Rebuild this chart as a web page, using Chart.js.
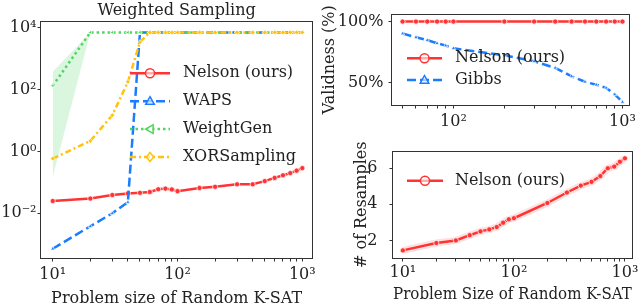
<!DOCTYPE html>
<html>
<head>
<meta charset="utf-8">
<script src="https://cdn.jsdelivr.net/npm/chart.js@4.4.1/dist/chart.umd.min.js"></script>
<style>
  body { margin: 0; background: #fff; width: 640px; height: 307px; overflow: hidden; position: relative; }
  canvas { position: absolute; }
</style>
</head>
<body>
<canvas id="tiempo" width="320" height="307" style="left:0;top:0"></canvas>
<canvas id="validez" width="320" height="130" style="left:320px;top:0"></canvas>
<canvas id="remuestreo" width="320" height="177" style="left:320px;top:130px"></canvas>
<script>
// ---- datos ----
// panel izquierdo: tiempo de muestreo ponderado (escala log)
const sizesTime = [10, 20, 30, 40, 50, 60, 70, 80, 90, 100, 150, 200, 300, 400, 500, 600, 700, 800, 900, 1000];
const nelsonTime = [0.025, 0.030, 0.039, 0.044, 0.046, 0.049, 0.060, 0.063, 0.059, 0.052, 0.066, 0.072, 0.087, 0.087, 0.11, 0.14, 0.17, 0.20, 0.24, 0.29];
const wapsTime = [0.00071, 0.0038, 0.010, 0.023, 7200, 7200, 7200, 7200, 7200, 7200, 7200, 7200, 7200, 7200, 7200, 7200, 7200, 7200, 7200, 7200];
const weightgenTime = [135, 7200, 7200, 7200, 7200, 7200, 7200, 7200, 7200, 7200, 7200, 7200, 7200, 7200, 7200, 7200, 7200, 7200, 7200, 7200];
const xorTime = [0.59, 2.2, 15, 180, 3500, 7200, 7200, 7200, 7200, 7200, 7200, 7200, 7200, 7200, 7200, 7200, 7200, 7200, 7200, 7200];
const bandSizes = [10, 20];
const weightgenLow = [0.15, 7200];
const weightgenHigh = [380, 7200];
const timeTicksX = [10, 20, 30, 40, 50, 60, 70, 80, 90, 100, 200, 300, 400, 500, 600, 700, 800, 900, 1000];
const timeTicksY = [0.01, 1, 100, 10000];

// panel superior derecho: validez (%)
const sizesValid = [50, 60, 70, 80, 90, 100, 200, 300, 400, 500, 600, 700, 800, 900, 1000];
const nelsonValid = [100, 100, 100, 100, 100, 100, 100, 100, 100, 100, 100, 100, 100, 100, 100];
const gibbsValid = [90.1, 87.1, 84.7, 82.2, 80.2, 78.0, 72.3, 67.3, 61.9, 55.0, 50.5, 48.0, 45.5, 40.1, 33.9];
const validTicksX = [50, 60, 70, 80, 90, 100, 200, 300, 400, 500, 600, 700, 800, 900, 1000];
const validTicksY = [50, 100];

// panel inferior derecho: numero de remuestreos
const sizesResample = [10, 20, 30, 40, 50, 60, 70, 80, 90, 100, 200, 300, 400, 500, 600, 700, 800, 900, 1000];
const nelsonResample = [1.45, 1.86, 2.0, 2.29, 2.5, 2.61, 2.74, 2.98, 3.17, 3.23, 4.07, 4.65, 5.03, 5.24, 5.56, 5.99, 6.08, 6.35, 6.54];
const resampleTicksX = [10, 20, 30, 40, 50, 60, 70, 80, 90, 100, 200, 300, 400, 500, 600, 700, 800, 900, 1000];
const resampleTicksY = [2, 4, 6];

const majorX = [10, 100, 1000];

// ---- estilos ----
const ROJO = "#ff3333";
const AZUL = "#1a7cff";
const VERDE = "#4fd65f";
const AMARILLO = "#ffc20e";
const FUENTE = "'DejaVu Serif', serif";
const TEXTO = "#222";
const EJE = "#333";

Chart.defaults.font.family = FUENTE;
Chart.defaults.font.size = 16;
Chart.defaults.color = TEXTO;

const sup = { "-": "⁻", "0": "⁰", "1": "¹", "2": "²", "3": "³", "4": "⁴" };
function potencia(v) {
  const e = Math.round(Math.log10(v));
  return "10" + String(e).split("").map((c) => sup[c]).join("");
}

function puntos(xs, ys) {
  return xs.map((x, i) => ({ x: x, y: ys[i] }));
}

function marcador(ctx, estilo, x, y, r) {
  ctx.beginPath();
  if (estilo === "circle") {
    ctx.arc(x, y, r, 0, Math.PI * 2);
  } else if (estilo === "triangle") {
    ctx.moveTo(x, y - r);
    ctx.lineTo(x + r * 0.95, y + r * 0.7);
    ctx.lineTo(x - r * 0.95, y + r * 0.7);
    ctx.closePath();
  } else if (estilo === "triLeft") {
    ctx.moveTo(x - r, y);
    ctx.lineTo(x + r * 0.7, y - r * 0.95);
    ctx.lineTo(x + r * 0.7, y + r * 0.95);
    ctx.closePath();
  } else {
    ctx.moveTo(x, y - r);
    ctx.lineTo(x + r * 0.8, y);
    ctx.lineTo(x, y + r);
    ctx.lineTo(x - r * 0.8, y);
    ctx.closePath();
  }
  ctx.fill();
  ctx.stroke();
}

// marco completo alrededor del area de la grafica
const marcoPlugin = {
  id: "marco",
  afterDraw(chart) {
    const ctx = chart.ctx;
    const a = chart.chartArea;
    ctx.save();
    ctx.setLineDash([]);
    ctx.strokeStyle = EJE;
    ctx.lineWidth = 1;
    ctx.strokeRect(Math.round(a.left) - 0.5, Math.round(a.top) - 0.5, Math.round(a.right - a.left) + 1, Math.round(a.bottom - a.top) + 1);
    ctx.restore();
  },
};

// leyenda estilo matplotlib (linea + marcador)
const leyendaPlugin = {
  id: "leyenda",
  afterDraw(chart, args, opts) {
    const ctx = chart.ctx;
    ctx.save();
    opts.items.forEach((it, i) => {
      const ds = chart.data.datasets[it.index];
      const y = opts.y + i * opts.step;
      ctx.strokeStyle = ds.borderColor;
      ctx.lineWidth = 2.5;
      ctx.setLineDash(ds.borderDash || []);
      ctx.beginPath();
      ctx.moveTo(opts.x, y);
      ctx.lineTo(opts.x + opts.len, y);
      ctx.stroke();
      ctx.setLineDash([]);
      ctx.lineWidth = 1.5;
      ctx.fillStyle = "rgba(255,255,255,0.6)";
      marcador(ctx, it.marker, opts.x + opts.len / 2, y, 4.5);
      ctx.fillStyle = TEXTO;
      ctx.font = "16px " + FUENTE;
      ctx.textAlign = "left";
      ctx.textBaseline = "middle";
      ctx.fillText(ds.label, opts.x + opts.textGap, y);
    });
    ctx.restore();
  },
};

const rejilla = { display: true, drawOnChartArea: false, drawTicks: true, tickLength: 3.5, color: EJE };

function ejeX(min, max, ticks, alto, pad) {
  return {
    type: "logarithmic",
    min: min,
    max: max,
    border: { display: false },
    grid: rejilla,
    afterBuildTicks: (axis) => {
      axis.ticks = ticks.map((v) => ({ value: v }));
    },
    afterFit: (scale) => {
      scale.height = alto;
    },
    ticks: {
      autoSkip: false,
      maxRotation: 0,
      padding: pad,
      color: TEXTO,
      callback: (v) => (majorX.includes(v) ? potencia(v) : ""),
    },
  };
}

function serie(label, xs, ys, color, dash, estilo, extra) {
  return Object.assign(
    {
      label: label,
      data: puntos(xs, ys),
      borderColor: color,
      backgroundColor: color,
      borderWidth: 2.5,
      borderDash: dash,
      pointStyle: estilo,
      pointRadius: 2.6,
      pointBorderWidth: 0.8,
      pointBorderColor: "rgba(255,255,255,0.9)",
      pointBackgroundColor: color,
      fill: false,
      tension: 0,
    },
    extra || {}
  );
}

function graficaTiempo() {
  const ctx = document.getElementById("tiempo");
  new Chart(ctx, {
    type: "line",
    data: {
      datasets: [
        { label: "band-low", data: puntos(bandSizes, weightgenLow), borderWidth: 0, pointRadius: 0, fill: false, order: 8 },
        { label: "band-high", data: puntos(bandSizes, weightgenHigh), borderWidth: 0, pointRadius: 0, fill: "-1", backgroundColor: "rgba(90,215,110,0.22)", order: 9 },
        serie("Nelson (ours)", sizesTime, nelsonTime, ROJO, [], "circle", { order: 3 }),
        serie("WAPS", sizesTime, wapsTime, AZUL, [9, 4], "triangle", { order: 2, pointRadius: 2.4 }),
        serie("WeightGen", sizesTime, weightgenTime, VERDE, [2.5, 3], "triangle", { order: 1, pointRotation: -90, pointRadius: 2.4 }),
        serie("XORSampling", sizesTime, xorTime, AMARILLO, [6, 3, 2, 3], "rectRot", { order: 0, pointRadius: 2.4 }),
      ],
    },
    options: {
      responsive: false,
      animation: false,
      devicePixelRatio: 1,
      layout: { padding: { top: 0, right: 3, bottom: 0, left: 0 } },
      scales: {
        x: Object.assign(ejeX(8.05, 1200, timeTicksX, 49, 4), {
          title: { display: true, text: "Problem size of Random K-SAT", color: TEXTO, font: { size: 16, lineHeight: 1 }, padding: { top: 0, bottom: 0 } },
        }),
        y: {
          type: "logarithmic",
          min: 3.56e-4,
          max: 15640,
          border: { display: false },
          grid: rejilla,
          afterBuildTicks: (axis) => {
            axis.ticks = timeTicksY.map((v) => ({ value: v }));
          },
          afterFit: (scale) => {
            scale.width = 41;
          },
          ticks: { padding: 1, color: TEXTO, callback: (v) => potencia(v) },
        },
      },
      plugins: {
        legend: { display: false },
        tooltip: { enabled: false },
        title: {
          display: true,
          text: "Weighted Sampling",
          fullSize: false,
          color: TEXTO,
          font: { size: 16, weight: "normal", lineHeight: 1 },
          padding: { top: 3, bottom: 3 },
        },
        leyenda: {
          x: 130,
          y: 73.3,
          step: 27.9,
          len: 40,
          textGap: 53,
          items: [
            { index: 2, marker: "circle" },
            { index: 3, marker: "triangle" },
            { index: 4, marker: "triLeft" },
            { index: 5, marker: "diamond" },
          ],
        },
      },
    },
    plugins: [marcoPlugin, leyendaPlugin],
  });
}

function graficaValidez() {
  const ctx = document.getElementById("validez");
  new Chart(ctx, {
    type: "line",
    data: {
      datasets: [
        serie("Nelson (ours)", sizesValid, nelsonValid, ROJO, [], "circle"),
        serie("Gibbs", sizesValid, gibbsValid, AZUL, [9, 4], "triangle", { pointRadius: 2.4 }),
      ],
    },
    options: {
      responsive: false,
      animation: false,
      devicePixelRatio: 1,
      layout: { padding: { top: 5, right: 5, bottom: 0, left: 0 } },
      scales: {
        x: ejeX(43.3, 1093, validTicksX, 25, 4),
        y: {
          type: "linear",
          min: 31.4,
          max: 105.7,
          border: { display: false },
          grid: rejilla,
          afterBuildTicks: (axis) => {
            axis.ticks = validTicksY.map((v) => ({ value: v }));
          },
          afterFit: (scale) => {
            scale.width = 72;
          },
          title: { display: true, text: "Validness (%)", color: TEXTO, font: { size: 16, lineHeight: 1.2 }, padding: { top: 0, bottom: 0 } },
          ticks: { padding: 5, color: TEXTO, callback: (v) => v + "%" },
        },
      },
      plugins: {
        legend: { display: false },
        tooltip: { enabled: false },
        leyenda: {
          x: 87,
          y: 58.3,
          step: 21.7,
          len: 35,
          textGap: 48,
          items: [
            { index: 0, marker: "circle" },
            { index: 1, marker: "triangle" },
          ],
        },
      },
    },
    plugins: [marcoPlugin, leyendaPlugin],
  });
}

function graficaRemuestreo() {
  const ctx = document.getElementById("remuestreo");
  new Chart(ctx, {
    type: "line",
    data: {
      datasets: [
        serie("Nelson (ours)", sizesResample, nelsonResample, ROJO, [], "circle"),
        // banda tenue alrededor de la curva
        { label: "band", data: puntos(sizesResample, nelsonResample), borderColor: "rgba(255,60,60,0.16)", borderWidth: 7, pointRadius: 0, fill: false },
      ],
    },
    options: {
      responsive: false,
      animation: false,
      devicePixelRatio: 1,
      layout: { padding: { top: 5, right: 5, bottom: 0, left: 0 } },
      scales: {
        x: Object.assign(ejeX(8.15, 1154, resampleTicksX, 49, 1.5), {
          title: { display: true, text: "Problem Size of Random K-SAT", color: TEXTO, font: { size: 16, lineHeight: 1 }, padding: { top: 0, bottom: 4.5 } },
        }),
        y: {
          type: "linear",
          min: 1.03,
          max: 6.91,
          border: { display: false },
          grid: rejilla,
          afterBuildTicks: (axis) => {
            axis.ticks = resampleTicksY.map((v) => ({ value: v }));
          },
          afterFit: (scale) => {
            scale.width = 73;
          },
          title: { display: true, text: "# of Resamples", color: TEXTO, font: { size: 16, lineHeight: 1.2 }, padding: { top: 32, bottom: 0 } },
          ticks: { padding: 12, color: TEXTO },
        },
      },
      plugins: {
        legend: { display: false },
        tooltip: { enabled: false },
        leyenda: {
          x: 87,
          y: 50.7,
          step: 22,
          len: 36,
          textGap: 48,
          items: [{ index: 0, marker: "circle" }],
        },
      },
    },
    plugins: [marcoPlugin, leyendaPlugin],
  });
}

document.addEventListener("DOMContentLoaded", () => {
  graficaTiempo();
  graficaValidez();
  graficaRemuestreo();
});
</script>
</body>
</html>
